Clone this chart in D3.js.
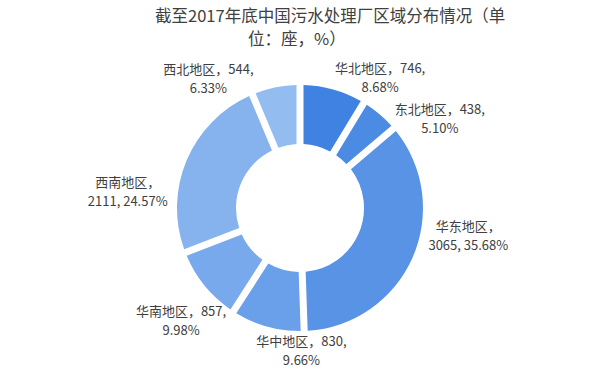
<!DOCTYPE html>
<html>
<head>
<meta charset="utf-8">
<script src="https://cdn.jsdelivr.net/npm/d3@7/dist/d3.min.js"></script>
<style>
  body { margin: 0; background: #fff; }
  text { font-family: "Noto Sans CJK SC", "Noto Sans", sans-serif; fill: #404040; }
</style>
</head>
<body>
<div id="chart"></div>
<script>
// data (units: 座)
const regions = ["华北地区", "东北地区", "华东地区", "华中地区", "华南地区", "西南地区", "西北地区"];
const counts = [746, 438, 3065, 830, 857, 2111, 544];
const shares = ["8.68", "5.10", "35.68", "9.66", "9.98", "24.57", "6.33"];

const colors = ["#3f82e2", "#4c8be4", "#5893e6", "#6a9fe9", "#78a9ec", "#86b2ee", "#93bcf1"];

const width = 600, height = 376;
const cx = 300, cy = 208;
const rIn = 64, rOut = 123;

// label nudges from the label-arc centroid (layout only)
const labelNudge = [[37, 24], [36, 33], [22, -37], [44, -11], [5, 12], [-25, 46], [-60, 28]];
// big counts go on the second line, like the original
const wrapAfterName = counts.map((c) => c >= 1000);

const svg = d3.select("#chart")
  .append("svg")
  .attr("width", width)
  .attr("height", height);

// *title, wraps onto two lines
svg.append("text")
  .attr("x", 155)
  .attr("y", 22)
  .style("font-size", "16.5px")
  .text("截至2017年底中国污水处理厂区域分布情况（单");

svg.append("text")
  .attr("x", 248)
  .attr("y", 45)
  .style("font-size", "16.5px")
  .text("位：座，%）");

const data = regions.map((r, i) => ({ name: r, count: counts[i], share: shares[i], i: i }));

const pie = d3.pie().sort(null).value((d) => d.count);
const arcs = pie(data);

const arc = d3.arc()
  .innerRadius(rIn)
  .outerRadius(rOut)
  .padRadius(rOut)
  .padAngle(7 / rOut);

const labelArc = d3.arc().innerRadius(160).outerRadius(160);

const g = svg.append("g").attr("transform", "translate(" + cx + "," + cy + ")");

g.selectAll(".slice")
  .data(arcs)
  .enter()
  .append("path")
  .attr("class", "slice")
  .attr("d", arc)
  .attr("fill", (d) => colors[d.data.i]);

// *labels, two lines each
const labelPos = (d) => {
  const c = labelArc.centroid(d);
  const n = labelNudge[d.data.i];
  return [c[0] + n[0], c[1] + n[1]];
};

g.selectAll(".lbl1")
  .data(arcs)
  .enter()
  .append("text")
  .attr("class", "lbl1")
  .attr("text-anchor", "middle")
  .style("font-size", "13px")
  .attr("x", (d) => labelPos(d)[0])
  .attr("y", (d) => labelPos(d)[1] - 5)
  .text((d) => wrapAfterName[d.data.i] ? d.data.name + "，" : d.data.name + "，" + d.data.count + ",");

g.selectAll(".lbl2")
  .data(arcs)
  .enter()
  .append("text")
  .attr("class", "lbl2")
  .attr("text-anchor", "middle")
  .style("font-size", "13px")
  .attr("x", (d) => labelPos(d)[0])
  .attr("y", (d) => labelPos(d)[1] + 14)
  .text((d) => wrapAfterName[d.data.i] ? d.data.count + ", " + d.data.share + "%" : d.data.share + "%");
</script>
</body>
</html>
